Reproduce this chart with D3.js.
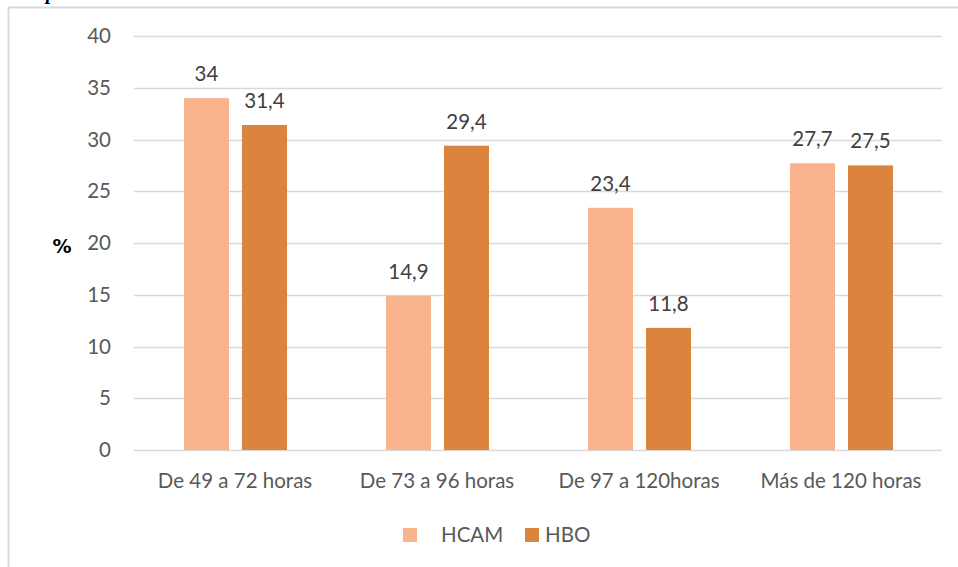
<!DOCTYPE html>
<html>
<head>
<meta charset="utf-8">
<script src="https://cdn.jsdelivr.net/npm/d3@7"></script>
<style>
  html, body { margin: 0; padding: 0; background: #fff; }
  svg { display: block; }
</style>
</head>
<body>
<svg id="chart" width="958" height="567"></svg>
<script>
// Percentage of cases by time interval, two hospitals
const categories = ["De 49 a 72 horas", "De 73 a 96 horas", "De 97 a 120horas", "Más de 120 horas"];
const seriesNames = ["HCAM", "HBO"];
const hcamValues = [34, 14.9, 23.4, 27.7];
const hboValues = [31.4, 29.4, 11.8, 27.5];
const yTicks = [0, 5, 10, 15, 20, 25, 30, 35, 40];
const valueLabels = [["34", "14,9", "23,4", "27,7"], ["31,4", "29,4", "11,8", "27,5"]];

const colors = ["#F9B48E", "#DB843D"];
const textColor = "#595959";
const font = "Lato, 'Open Sans', sans-serif";
const fontSize = 20.5;

const svg = d3.select("#chart");

// outer frame
svg.append("rect")
  .attr("x", 8.5).attr("y", 7.5)
  .attr("width", 1000).attr("height", 600)
  .attr("fill", "none").attr("stroke", "#D9D9D9").attr("stroke-width", 2);

// fragment of a caption line above the frame
svg.append("text")
  .attr("x", 46).attr("y", -1)
  .attr("font-family", "'Liberation Serif', serif")
  .attr("font-style", "italic").attr("font-weight", "bold")
  .attr("font-size", 20).attr("fill", "#000")
  .text("p");

const x0 = d3.scaleBand().domain(categories).range([134, 942]);
const y = d3.scaleLinear().domain([0, 40]).range([450, 36]);

// gridlines
svg.append("g").selectAll("line").data(yTicks).join("line")
  .attr("x1", 134).attr("x2", 942)
  .attr("y1", d => Math.round(y(d)) + 0.5).attr("y2", d => Math.round(y(d)) + 0.5)
  .attr("stroke", "#D9D9D9").attr("stroke-width", 1.3);

// y tick labels
svg.append("g").selectAll("text").data(yTicks).join("text")
  .attr("x", 111).attr("y", d => y(d))
  .attr("dy", "0.35em")
  .attr("text-anchor", "end")
  .attr("font-family", font).attr("font-size", fontSize)
  .attr("fill", textColor)
  .text(d => d);

// y axis title
svg.append("text")
  .attr("x", 62).attr("y", 246).attr("dy", "0.35em")
  .attr("text-anchor", "middle")
  .attr("font-family", "'DejaVu Sans', sans-serif").attr("font-weight", "bold")
  .attr("font-size", 19).attr("fill", "#000")
  .text("%");

// bars within each category band
const x1 = d3.scaleBand().domain(seriesNames).range([50, 153]).paddingInner(13 / 58);
const series = [hcamValues, hboValues];

series.forEach((vals, si) => {
  const g = svg.append("g");
  g.selectAll("rect").data(vals).join("rect")
    .attr("x", (d, i) => x0(categories[i]) + x1(seriesNames[si]))
    .attr("y", d => y(d))
    .attr("width", x1.bandwidth())
    .attr("height", d => y(0) - y(d))
    .attr("fill", colors[si]);
  g.selectAll("text").data(vals).join("text")
    .attr("x", (d, i) => x0(categories[i]) + x1(seriesNames[si]) + x1.bandwidth() / 2)
    .attr("y", d => y(d) - 17)
    .attr("text-anchor", "middle")
    .attr("font-family", font).attr("font-size", fontSize)
    .attr("fill", "#404040")
    .text((d, i) => valueLabels[si][i]);
});

// category labels
svg.append("g").selectAll("text").data(categories).join("text")
  .attr("x", d => x0(d) + x0.bandwidth() / 2)
  .attr("y", 481).attr("dy", "0.35em")
  .attr("text-anchor", "middle")
  .attr("font-family", font).attr("font-size", fontSize)
  .attr("fill", textColor)
  .text(d => d);

// legend
const legendItems = [
  { name: "HCAM", sx: 403, tx: 441 },
  { name: "HBO", sx: 525, tx: 545 }
];
const lg = svg.append("g");
legendItems.forEach((it, i) => {
  lg.append("rect")
    .attr("x", it.sx).attr("y", 528).attr("width", 14).attr("height", 14)
    .attr("fill", colors[i]);
  lg.append("text")
    .attr("x", it.tx).attr("y", 535).attr("dy", "0.35em")
    .attr("font-family", font).attr("font-size", fontSize)
    .attr("fill", textColor)
    .text(it.name);
});
</script>
</body>
</html>
